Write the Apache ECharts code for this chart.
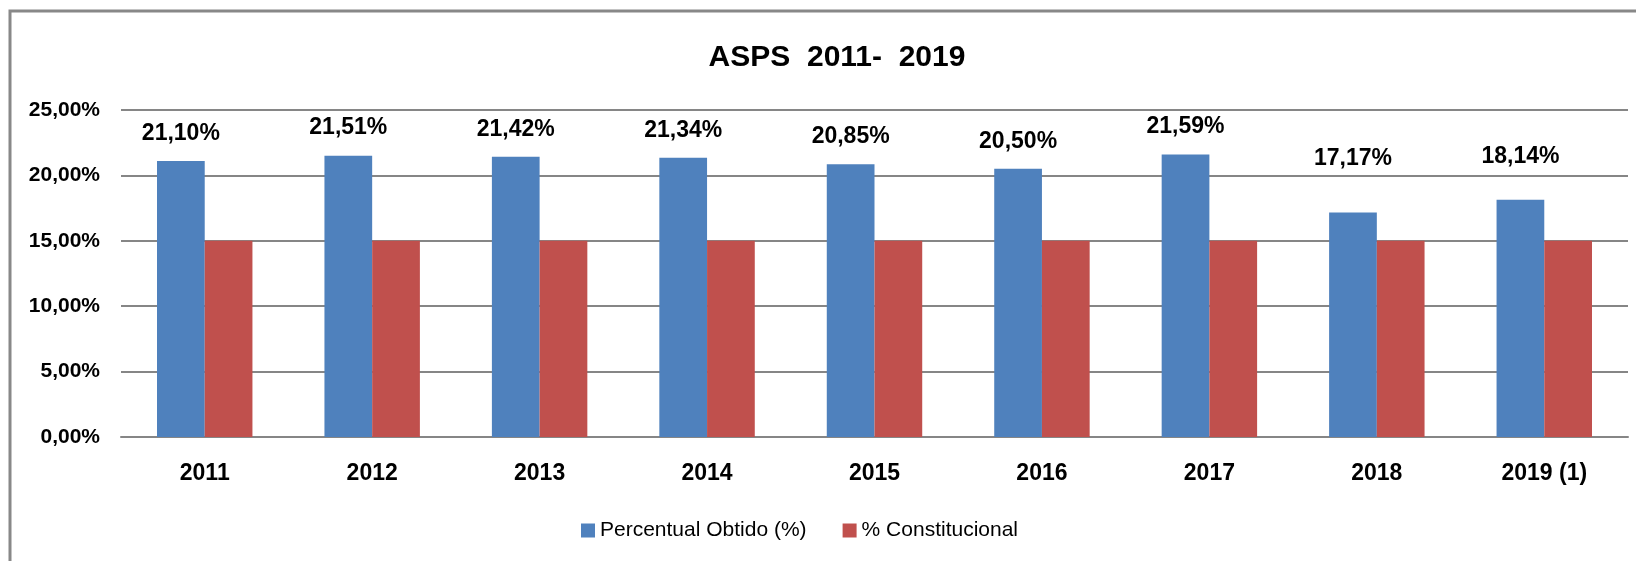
<!DOCTYPE html>
<html>
<head>
<meta charset="utf-8">
<script src="https://cdn.jsdelivr.net/npm/echarts@6/dist/echarts.min.js"></script>
<style>
  html, body { margin: 0; padding: 0; background: #fff; }
  #chart { width: 1636px; height: 561px; }
</style>
</head>
<body>
<div id="chart"></div>
<script>
var anos = ['2011', '2012', '2013', '2014', '2015', '2016', '2017', '2018', '2019 (1)'];
var percentualObtido = [21.10, 21.51, 21.42, 21.34, 20.85, 20.50, 21.59, 17.17, 18.14];
var constitucional = [15, 15, 15, 15, 15, 15, 15, 15, 15];

var fonte = '"Liberation Sans", Arial, sans-serif';

// rótulos de 2018 e 2019 ficam mais afastados da barra no original
var distRotulo = [16, 16, 16, 16, 16, 16, 16, 42, 32];

function fmt(v) {
    return v.toFixed(2).replace('.', ',') + '%';
}

var chart = echarts.init(document.getElementById('chart'), null, {renderer: 'canvas'});

var dadosAzul = percentualObtido.map(function (v, i) {
    return {value: v, label: {distance: distRotulo[i]}};
});

var option = {
    backgroundColor: '#fff',
    animation: false,
    title: {
        text: 'ASPS  2011-  2019',
        left: 832,
        textAlign: 'center',
        top: 38,
        textStyle: {fontFamily: fonte, fontSize: 30, fontWeight: 'bold', color: '#000'}
    },
    // moldura cinza (só esquerda e topo aparecem)
    graphic: [{
        type: 'rect',
        shape: {x: 10, y: 11, width: 1700, height: 600},
        style: {fill: 'none', stroke: '#888', lineWidth: 3},
        silent: true
    }],
    legend: {
        data: ['Percentual Obtido (%)', '% Constitucional'],
        left: 576,
        top: 515,
        itemWidth: 14,
        itemHeight: 14,
        itemGap: 36,
        icon: 'rect',
        textStyle: {fontFamily: fonte, fontSize: 21, color: '#000'}
    },
    grid: {left: 121, right: 8, top: 110, bottom: 124},
    xAxis: {
        type: 'category',
        data: anos,
        axisLine: {lineStyle: {color: '#868686', width: 2}},
        axisTick: {show: false},
        axisLabel: {fontFamily: fonte, fontSize: 23, fontWeight: 'bold', color: '#000', margin: 25}
    },
    yAxis: {
        type: 'value',
        min: 0,
        max: 25,
        interval: 5,
        axisLine: {show: false},
        axisTick: {show: false},
        splitLine: {lineStyle: {color: '#868686', width: 2}},
        axisLabel: {
            fontFamily: fonte, fontSize: 21, fontWeight: 'bold', color: '#000', margin: 21,
            formatter: function (v) { return fmt(v); }
        }
    },
    series: [{
        name: 'Percentual Obtido (%)',
        type: 'bar',
        data: dadosAzul,
        barGap: '0%',
        barCategoryGap: '43%',
        itemStyle: {color: '#4F81BD'},
        label: {
            show: true,
            position: 'top',
            distance: 16,
            fontFamily: fonte, fontSize: 23, fontWeight: 'bold', color: '#000',
            formatter: function (p) { return fmt(p.value); }
        }
    }, {
        name: '% Constitucional',
        type: 'bar',
        data: constitucional,
        barGap: '0%',
        barCategoryGap: '43%',
        itemStyle: {color: '#C0504D'}
    }]
};

chart.setOption(option);
</script>
</body>
</html>
